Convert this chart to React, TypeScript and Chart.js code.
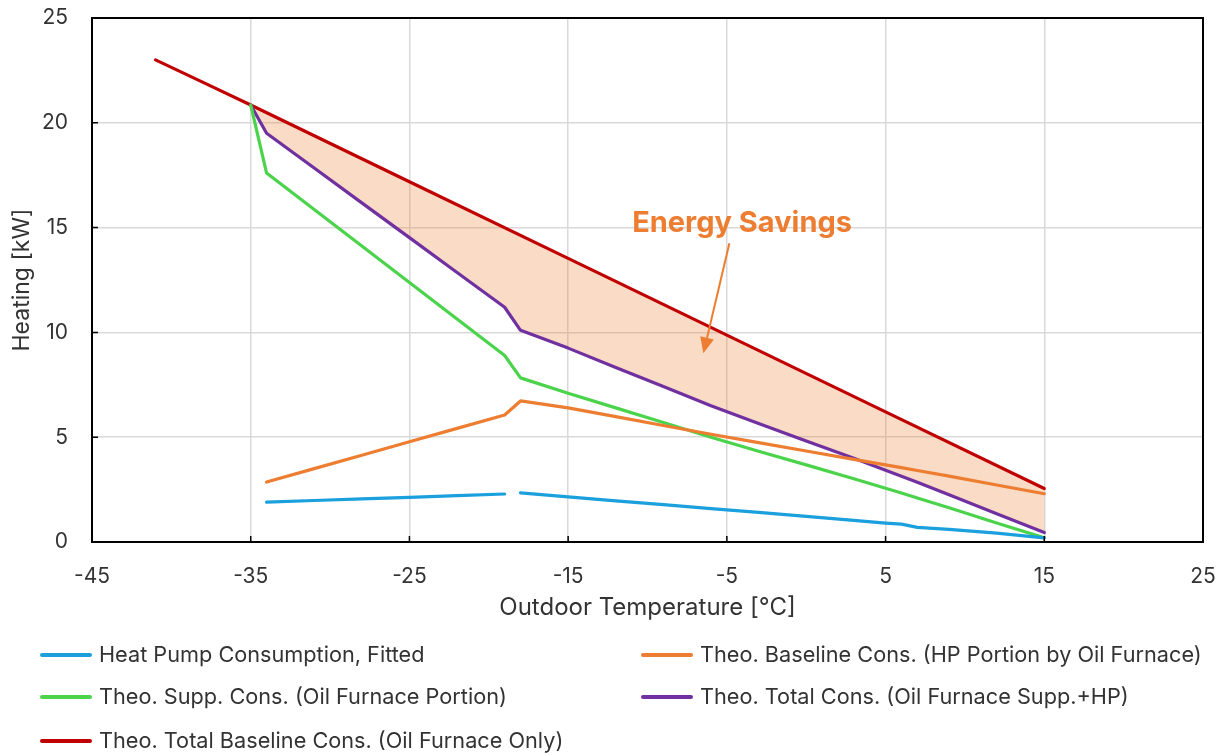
import React, { useEffect, useRef } from "react";
import { Chart, registerables } from "chart.js";

Chart.register(...registerables);

// ---------- data ----------
const TEMPS = [-35, -34, -31, -28, -25, -22, -19, -18, -15, -12, -9, -6, -3, 0, 3, 6, 7, 9, 12, 15];
const TOTAL_CONS = [20.85, 19.5, 17.84, 16.18, 14.52, 12.86, 11.2, 10.1, 9.25, 8.33, 7.42, 6.5, 5.65, 4.82, 3.99, 3.14, 2.85, 2.25, 1.35, 0.45];
const SUPP_CONS = [20.85, 17.6, 15.86, 14.12, 12.38, 10.64, 8.9, 7.83, 7.1, 6.4, 5.7, 5.0, 4.33, 3.68, 3.02, 2.34, 2.1, 1.63, 0.91, 0.2];
const BASELINE_HP = [null, 2.86, 3.5, 4.14, 4.78, 5.42, 6.06, 6.73, 6.4, 5.98, 5.56, 5.14, 4.74, 4.34, 3.94, 3.55, 3.41, 3.14, 2.72, 2.3];

const HP_TEMPS = [-34, -31, -28, -25, -22, -19, -18.5, -18, -15, -12, -9, -6, -3, 0, 3, 5, 6, 7, 9, 12, 15];
const HP_CONS = [1.9, 1.98, 2.06, 2.13, 2.21, 2.29, null, 2.34, 2.15, 1.96, 1.78, 1.59, 1.41, 1.22, 1.03, 0.9, 0.85, 0.7, 0.6, 0.42, 0.2];

const BASE_TEMPS = [-41, -38, -35, -25, -15, -5, 5, 15];
const BASE_TOTAL = [23.0, 21.93, 20.85, 17.19, 13.53, 9.87, 6.21, 2.55];

const LABELS = [
  "Heat Pump Consumption, Fitted",
  "Theo. Baseline Cons. (HP Portion by Oil Furnace)",
  "Theo. Supp. Cons. (Oil Furnace Portion)",
  "Theo. Total Cons. (Oil Furnace Supp.+HP)",
  "Theo. Total Baseline Cons. (Oil Furnace Only)",
];
const COLORS = ["#1AA0DD", "#ED7D31", "#4CD34C", "#7030A0", "#C00000"];

const X_TICK_MIN = -45;
const X_TICK_MAX = 25;
const X_STEP = 10;
const Y_TICK_MIN = 0;
const Y_TICK_MAX = 25;
const Y_STEP = 5;

const X_TITLE = "Outdoor Temperature [°C]";
const Y_TITLE = "Heating [kW]";

const ANNOTATION_TEXT = "Energy Savings";
const ANNOTATION_TEXT_POS = { x: -4.04, y: 15.22 };
const ARROW_FROM = { x: -4.84, y: 14.25 };
const ARROW_TO = { x: -6.48, y: 9.0 };

const FONT = "Inter";
const TEXT_COLOR = "#333333";

const toPoints = (xs: number[], ys: (number | null)[]) => xs.map((x, i) => ({ x, y: ys[i] }));

const boxPlugin = {
  id: "boxAndTicks",
  afterDatasetsDraw(chart: any) {
    const { ctx, chartArea, scales } = chart;
    ctx.save();
    ctx.strokeStyle = "#000";
    ctx.lineWidth = 2;
    ctx.strokeRect(chartArea.left, chartArea.top, chartArea.right - chartArea.left, chartArea.bottom - chartArea.top);
    ctx.lineWidth = 1.5;
    ctx.beginPath();
    scales.x.ticks.forEach((t: any) => {
      const px = scales.x.getPixelForValue(t.value);
      ctx.moveTo(px, chartArea.bottom);
      ctx.lineTo(px, chartArea.bottom - 6);
    });
    scales.y.ticks.forEach((t: any) => {
      const py = scales.y.getPixelForValue(t.value);
      ctx.moveTo(chartArea.left, py);
      ctx.lineTo(chartArea.left + 6, py);
    });
    ctx.stroke();

    // annotation
    const color = COLORS[1];
    const tx = scales.x.getPixelForValue(ANNOTATION_TEXT_POS.x);
    const ty = scales.y.getPixelForValue(ANNOTATION_TEXT_POS.y);
    ctx.fillStyle = color;
    ctx.font = `bold 29px ${FONT}`;
    ctx.textAlign = "center";
    ctx.textBaseline = "middle";
    ctx.fillText(ANNOTATION_TEXT, tx, ty);

    const x1 = scales.x.getPixelForValue(ARROW_FROM.x);
    const y1 = scales.y.getPixelForValue(ARROW_FROM.y);
    const x2 = scales.x.getPixelForValue(ARROW_TO.x);
    const y2 = scales.y.getPixelForValue(ARROW_TO.y);
    const ang = Math.atan2(y2 - y1, x2 - x1);
    const headLen = 16;
    const headW = 7;
    const bx = x2 - headLen * Math.cos(ang);
    const by = y2 - headLen * Math.sin(ang);
    ctx.strokeStyle = color;
    ctx.lineWidth = 2;
    ctx.beginPath();
    ctx.moveTo(x1, y1);
    ctx.lineTo(bx, by);
    ctx.stroke();
    ctx.beginPath();
    ctx.moveTo(x2, y2);
    ctx.lineTo(bx + headW * Math.sin(ang), by - headW * Math.cos(ang));
    ctx.lineTo(bx - headW * Math.sin(ang), by + headW * Math.cos(ang));
    ctx.closePath();
    ctx.fill();
    ctx.restore();
  },
};

const legendPlugin = {
  id: "gridLegend",
  afterDraw(chart: any) {
    const { ctx } = chart;
    const rows = [647, 689, 733];
    const cols = [32, 633];
    ctx.save();
    ctx.font = `21.7px ${FONT}`;
    ctx.textAlign = "left";
    ctx.textBaseline = "middle";
    chart.data.datasets.forEach((ds: any, i: number) => {
      const r = Math.floor(i / 2);
      const c = i % 2;
      const x = cols[c];
      const y = rows[r];
      ctx.strokeStyle = ds.borderColor;
      ctx.lineWidth = 4;
      ctx.lineCap = "round";
      ctx.beginPath();
      ctx.moveTo(x + 2, y);
      ctx.lineTo(x + 50, y);
      ctx.stroke();
      ctx.fillStyle = TEXT_COLOR;
      ctx.fillText(ds.label, x + 59, y);
    });
    ctx.restore();
  },
};

export default function App() {
  const ref = useRef<HTMLCanvasElement>(null);
  useEffect(() => {
    const canvas = ref.current;
    if (!canvas) return;
    const lineCommon = { borderWidth: 3.2, pointRadius: 0, tension: 0, spanGaps: false, borderCapStyle: "round" as const, borderJoinStyle: "round" as const };
    const chart = new Chart(canvas, {
      type: "line",
      data: {
        datasets: [
          { label: LABELS[0], data: toPoints(HP_TEMPS, HP_CONS), borderColor: COLORS[0], backgroundColor: COLORS[0], fill: false, ...lineCommon },
          { label: LABELS[1], data: toPoints(TEMPS, BASELINE_HP), borderColor: COLORS[1], backgroundColor: COLORS[1], fill: false, ...lineCommon },
          { label: LABELS[2], data: toPoints(TEMPS, SUPP_CONS), borderColor: COLORS[2], backgroundColor: COLORS[2], fill: false, ...lineCommon },
          { label: LABELS[3], data: toPoints(TEMPS, TOTAL_CONS), borderColor: COLORS[3], backgroundColor: "rgba(237,125,49,0.28)", fill: "+1", ...lineCommon },
          { label: LABELS[4], data: toPoints(BASE_TEMPS, BASE_TOTAL), borderColor: COLORS[4], backgroundColor: COLORS[4], fill: false, ...lineCommon },
        ] as any,
      },
      options: {
        animation: false,
        responsive: true,
        maintainAspectRatio: false,
        layout: { padding: { top: 10, right: 12, bottom: 113, left: 0 } },
        plugins: {
          legend: { display: false },
          tooltip: { enabled: false },
          filler: { drawTime: "beforeDatasetsDraw" },
        } as any,
        scales: {
          x: {
            type: "linear",
            min: X_TICK_MIN,
            max: X_TICK_MAX,
            afterFit: (s: any) => { s.height = 100; s.paddingLeft = 0; s.paddingRight = 0; },
            ticks: { stepSize: X_STEP, padding: 22, color: TEXT_COLOR, font: { family: FONT, size: 21 }, maxRotation: 0 },
            grid: { color: "#d9d9d9", lineWidth: 1.5, drawTicks: false },
            border: { display: false },
            title: { display: true, text: X_TITLE, color: TEXT_COLOR, font: { family: FONT, size: 24 }, padding: { top: 0, bottom: 20 } },
          },
          y: {
            type: "linear",
            min: Y_TICK_MIN,
            max: Y_TICK_MAX,
            afterFit: (s: any) => { s.width = 84; s.paddingTop = 0; s.paddingBottom = 0; },
            ticks: { stepSize: Y_STEP, padding: 24, color: TEXT_COLOR, font: { family: FONT, size: 21 } },
            grid: { color: "#d9d9d9", lineWidth: 1.5, drawTicks: false },
            border: { display: false },
            title: { display: true, text: Y_TITLE, color: TEXT_COLOR, font: { family: FONT, size: 23 }, padding: { top: 0, bottom: 0 } },
          },
        },
      } as any,
      plugins: [boxPlugin, legendPlugin],
    });
    return () => chart.destroy();
  }, []);
  return (
    <div style={{ position: "relative", width: 1207, height: 747 }}>
      <canvas ref={ref} />
    </div>
  );
}
